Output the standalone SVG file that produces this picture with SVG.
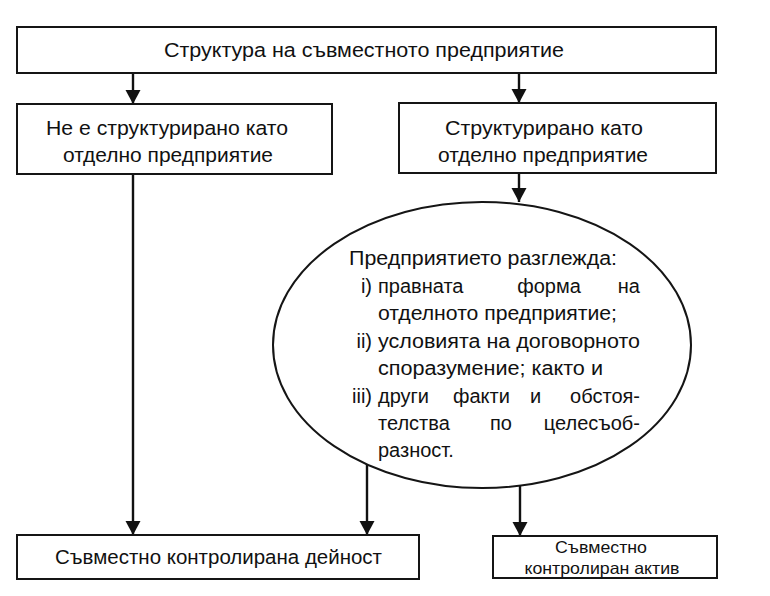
<svg xmlns="http://www.w3.org/2000/svg" width="770" height="596" viewBox="0 0 770 596">
<style>
  .box { fill: #ffffff; stroke: #151515; stroke-width: 2; }
  .conn { fill: none; stroke: #111111; stroke-width: 2.4; }
  text { font-family: "Liberation Sans", Arial, Helvetica, sans-serif; fill: #111111; }
  .t19 { font-size: 20px; }
  .t21 { font-size: 20.5px; }
  .t16 { font-size: 16.5px; }
  .mid { text-anchor: middle; }
  .end { text-anchor: end; }
</style>
<defs>
  <marker id="arrow" viewBox="0 0 14 16" refX="14" refY="8" markerWidth="14" markerHeight="16" markerUnits="userSpaceOnUse" orient="auto">
    <path d="M0,0.5 L14,8 L0,15.5 z" fill="#111111"/>
  </marker>
</defs>
<rect width="770" height="596" fill="#ffffff"/>

<g id="connectors">
  <line class="conn" x1="133" y1="73" x2="133" y2="104" marker-end="url(#arrow)"/>
  <line class="conn" x1="519" y1="73" x2="519" y2="103" marker-end="url(#arrow)"/>
  <line class="conn" x1="519" y1="173" x2="519" y2="202" marker-end="url(#arrow)"/>
  <line class="conn" x1="133" y1="174" x2="133" y2="535" marker-end="url(#arrow)"/>
  <line class="conn" x1="367" y1="463" x2="367" y2="535" marker-end="url(#arrow)"/>
  <line class="conn" x1="520" y1="486" x2="520" y2="536" marker-end="url(#arrow)"/>
</g>

<g id="node-top">
  <rect class="box" x="17" y="27" width="699" height="46"/>
  <text class="t21 mid" x="364" y="57" textLength="400" lengthAdjust="spacingAndGlyphs">Структура на съвместното предприятие</text>
</g>

<g id="node-not-structured">
  <rect class="box" x="17" y="104" width="315" height="70"/>
  <text class="t21 mid" x="167" y="135" textLength="242" lengthAdjust="spacingAndGlyphs">Не е структурирано като</text>
  <text class="t21 mid" x="168" y="162" textLength="210" lengthAdjust="spacingAndGlyphs">отделно предприятие</text>
</g>

<g id="node-structured">
  <rect class="box" x="399" y="103" width="317" height="70"/>
  <text class="t21 mid" x="544" y="135" textLength="198" lengthAdjust="spacingAndGlyphs">Структурирано като</text>
  <text class="t21 mid" x="543" y="162" textLength="210" lengthAdjust="spacingAndGlyphs">отделно предприятие</text>
</g>

<g id="node-considers">
  <ellipse class="box" cx="482" cy="345" rx="209" ry="143"/>
  <text class="t19" x="349" y="265" textLength="268" lengthAdjust="spacingAndGlyphs">Предприятието разглежда:</text>
  <text class="t19 end" x="372" y="293">i)</text>
  <text class="t19" x="378" y="293">правната</text>
  <text class="t19 mid" x="549" y="293">форма</text>
  <text class="t19 end" x="640" y="293">на</text>
  <text class="t19" x="378" y="320" textLength="239" lengthAdjust="spacingAndGlyphs">отделното предприятие;</text>
  <text class="t19 end" x="372" y="348">ii)</text>
  <text class="t19" x="378" y="348" textLength="262" lengthAdjust="spacingAndGlyphs">условията на договорното</text>
  <text class="t19" x="378" y="375" textLength="225" lengthAdjust="spacingAndGlyphs">споразумение; както и</text>
  <text class="t19 end" x="372" y="403">iii)</text>
  <text class="t19" x="378" y="403">други</text>
  <text class="t19" x="453" y="403">факти</text>
  <text class="t19" x="530" y="403">и</text>
  <text class="t19 end" x="640" y="403">обстоя-</text>
  <text class="t19" x="378" y="430">телства</text>
  <text class="t19" x="490" y="430">по</text>
  <text class="t19 end" x="640" y="430">целесъоб-</text>
  <text class="t19" x="378" y="457">разност.</text>
</g>

<g id="node-jc-operation">
  <rect class="box" x="17" y="535" width="402" height="44"/>
  <text class="t21" x="55" y="564" textLength="327" lengthAdjust="spacingAndGlyphs">Съвместно контролирана дейност</text>
</g>

<g id="node-jc-asset">
  <rect class="box" x="493" y="536" width="224" height="42"/>
  <text class="t16 mid" x="601" y="553" textLength="92" lengthAdjust="spacingAndGlyphs">Съвместно</text>
  <text class="t16 mid" x="602" y="574" textLength="155" lengthAdjust="spacingAndGlyphs">контролиран актив</text>
</g>
</svg>
